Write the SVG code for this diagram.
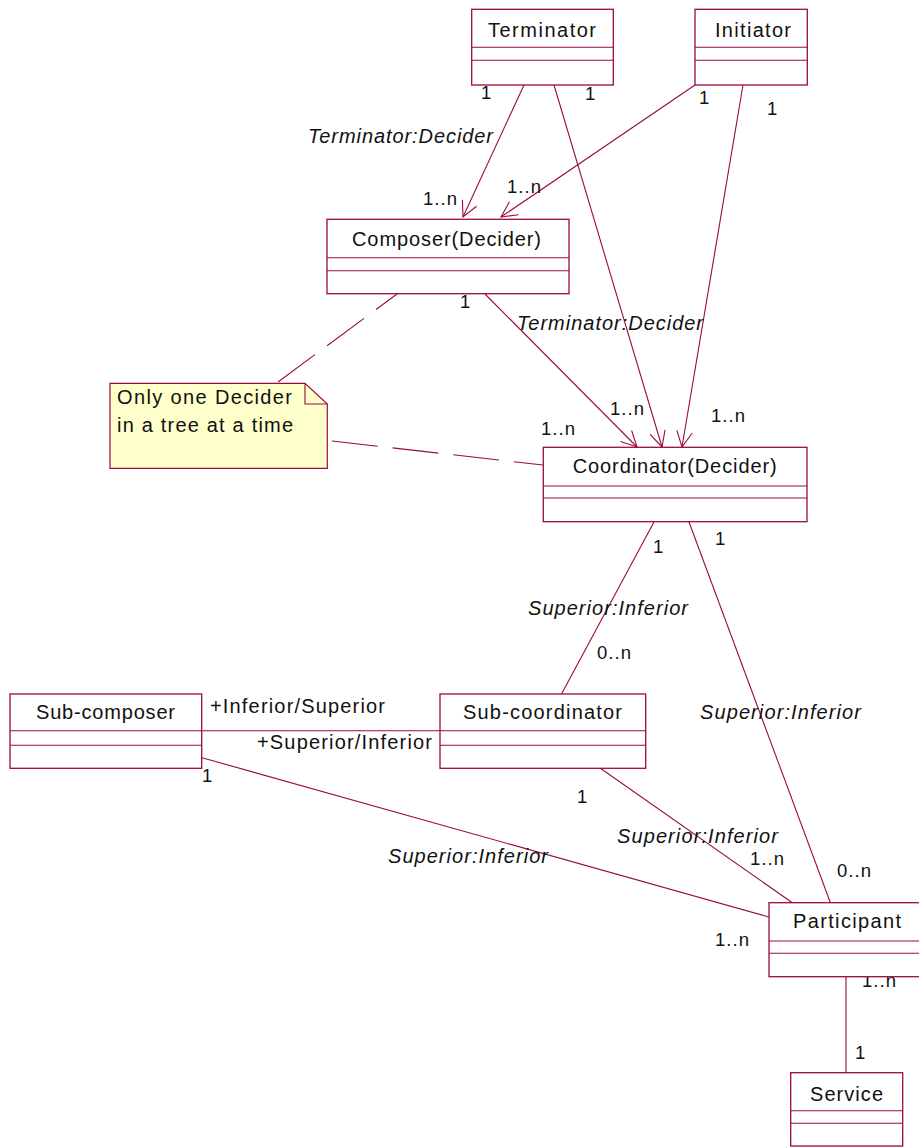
<svg xmlns="http://www.w3.org/2000/svg" width="919" height="1147" viewBox="0 0 919 1147">
  <style>
    .box { fill: #ffffff; stroke: #9b0a3c; stroke-width: 1.3; }
    .sep { stroke: #9b0a3c; stroke-width: 1.1; }
    .note { fill: #ffffcc; stroke: #9b0a3c; stroke-width: 1.2; }
    .link { fill: none; stroke: #9b0a3c; stroke-width: 1.1; }
    .dash { fill: none; stroke: #9b0a3c; stroke-width: 1.1; stroke-dasharray: 46 15; }
    text { font-family: "Liberation Sans", Arial, sans-serif; font-size: 20px; fill: #111111; }
    .mult { font-size: 18.5px; }
    .role { font-style: italic; }
  </style>
  <defs>
    <marker id="open" markerUnits="userSpaceOnUse" markerWidth="20" markerHeight="20" viewBox="-18 -10 20 20" refX="0" refY="0" orient="auto">
      <path d="M-15.5,-7.8 L0,0 L-15.5,7.8" fill="none" stroke="#9b0a3c" stroke-width="1.1"/>
    </marker>
  </defs>

  <!-- associations -->
  <g id="connectors">
    <line class="link" x1="524" y1="85" x2="463" y2="217" marker-end="url(#open)"/>
    <line class="link" x1="695" y1="85" x2="501" y2="217" marker-end="url(#open)"/>
    <line class="link" x1="554" y1="85" x2="662" y2="447" marker-end="url(#open)"/>
    <line class="link" x1="743" y1="85" x2="682" y2="447" marker-end="url(#open)"/>
    <line class="link" x1="485" y1="294" x2="637" y2="447" marker-end="url(#open)"/>
    <line class="dash" x1="278" y1="382" x2="397" y2="294"/>
    <line class="dash" x1="332" y1="441" x2="543" y2="465"/>
    <line class="link" x1="654" y1="522" x2="561.5" y2="694"/>
    <line class="link" x1="689" y1="522" x2="830.5" y2="903"/>
    <line class="link" x1="202" y1="730.7" x2="440" y2="730.7"/>
    <line class="link" x1="202" y1="757.7" x2="769" y2="917"/>
    <line class="link" x1="600" y1="768" x2="792.7" y2="903"/>
    <line class="link" x1="846" y1="977" x2="846" y2="1072.7"/>

    <text class="mult" x="481" y="99">1</text>
    <text class="mult" x="585" y="100">1</text>
    <text class="mult" x="699" y="104">1</text>
    <text class="mult" x="767" y="115">1</text>
    <text class="role" x="308" y="143" textLength="185" lengthAdjust="spacing">Terminator:Decider</text>
    <text class="mult" x="423" y="205" textLength="34" lengthAdjust="spacing">1..n</text>
    <text class="mult" x="507" y="193" textLength="34" lengthAdjust="spacing">1..n</text>
    <text class="mult" x="460" y="308">1</text>
    <text class="role" x="517" y="330" textLength="186" lengthAdjust="spacing">Terminator:Decider</text>
    <text class="mult" x="610" y="415" textLength="34" lengthAdjust="spacing">1..n</text>
    <text class="mult" x="541" y="435" textLength="34" lengthAdjust="spacing">1..n</text>
    <text class="mult" x="711" y="422" textLength="34" lengthAdjust="spacing">1..n</text>
    <text class="mult" x="653" y="553">1</text>
    <text class="mult" x="715" y="545">1</text>
    <text class="role" x="528" y="615" textLength="160" lengthAdjust="spacing">Superior:Inferior</text>
    <text class="mult" x="597" y="659" textLength="34" lengthAdjust="spacing">0..n</text>
    <text class="role" x="700" y="719" textLength="161" lengthAdjust="spacing">Superior:Inferior</text>
    <text x="210" y="713" textLength="175" lengthAdjust="spacing">+Inferior/Superior</text>
    <text x="257" y="749" textLength="175" lengthAdjust="spacing">+Superior/Inferior</text>
    <text class="mult" x="202" y="782">1</text>
    <text class="mult" x="577" y="803">1</text>
    <text class="role" x="617" y="843" textLength="161" lengthAdjust="spacing">Superior:Inferior</text>
    <text class="role" x="388" y="863" textLength="160" lengthAdjust="spacing">Superior:Inferior</text>
    <text class="mult" x="750" y="865" textLength="34" lengthAdjust="spacing">1..n</text>
    <text class="mult" x="837" y="877" textLength="34" lengthAdjust="spacing">0..n</text>
    <text class="mult" x="715" y="946" textLength="34" lengthAdjust="spacing">1..n</text>
    <text class="mult" x="862" y="987" textLength="34" lengthAdjust="spacing">1..n</text>
    <text class="mult" x="855" y="1059">1</text>
  </g>

  <g id="terminator">
    <rect class="box" x="471.7" y="9.3" width="141.6" height="75.7"/>
    <line class="sep" x1="471.7" y1="47.3" x2="613.3" y2="47.3"/>
    <line class="sep" x1="471.7" y1="60.3" x2="613.3" y2="60.3"/>
    <text x="488" y="37" textLength="108" lengthAdjust="spacing">Terminator</text>
  </g>

  <g id="initiator">
    <rect class="box" x="695" y="9.3" width="112.3" height="75.7"/>
    <line class="sep" x1="695" y1="47.3" x2="807.3" y2="47.3"/>
    <line class="sep" x1="695" y1="60.3" x2="807.3" y2="60.3"/>
    <text x="715" y="37" textLength="76" lengthAdjust="spacing">Initiator</text>
  </g>

  <g id="composer">
    <rect class="box" x="327" y="219.3" width="242" height="74.4"/>
    <line class="sep" x1="327" y1="257.7" x2="569" y2="257.7"/>
    <line class="sep" x1="327" y1="270.7" x2="569" y2="270.7"/>
    <text x="352" y="246" textLength="189" lengthAdjust="spacing">Composer(Decider)</text>
  </g>

  <g id="note">
    <polygon class="note" points="110,383.3 305,383.3 327.3,404 327.3,468.3 110,468.3"/>
    <polyline class="link" points="305,383.3 305,404 327.3,404"/>
    <text x="117" y="404" textLength="175" lengthAdjust="spacing">Only one Decider</text>
    <text x="117" y="432" textLength="176" lengthAdjust="spacing">in a tree at a time</text>
  </g>

  <g id="coordinator">
    <rect class="box" x="543.3" y="447.3" width="263.7" height="74.4"/>
    <line class="sep" x1="543.3" y1="486" x2="807" y2="486"/>
    <line class="sep" x1="543.3" y1="498" x2="807" y2="498"/>
    <text x="572.7" y="473" textLength="204" lengthAdjust="spacing">Coordinator(Decider)</text>
  </g>

  <g id="sub-composer">
    <rect class="box" x="10" y="694" width="191.7" height="74.3"/>
    <line class="sep" x1="10" y1="730.7" x2="201.7" y2="730.7"/>
    <line class="sep" x1="10" y1="745.3" x2="201.7" y2="745.3"/>
    <text x="36" y="719" textLength="139" lengthAdjust="spacing">Sub-composer</text>
  </g>

  <g id="sub-coordinator">
    <rect class="box" x="440" y="694" width="205.7" height="74.3"/>
    <line class="sep" x1="440" y1="730.7" x2="645.7" y2="730.7"/>
    <line class="sep" x1="440" y1="745.3" x2="645.7" y2="745.3"/>
    <text x="463" y="719" textLength="159" lengthAdjust="spacing">Sub-coordinator</text>
  </g>

  <g id="participant">
    <rect class="box" x="769" y="902.7" width="160" height="74"/>
    <line class="sep" x1="769" y1="941" x2="929" y2="941"/>
    <line class="sep" x1="769" y1="953.3" x2="929" y2="953.3"/>
    <text x="793" y="928" textLength="108" lengthAdjust="spacing">Participant</text>
  </g>

  <g id="service">
    <rect class="box" x="790.7" y="1072.7" width="112" height="73.3"/>
    <line class="sep" x1="790.7" y1="1110.7" x2="902.7" y2="1110.7"/>
    <line class="sep" x1="790.7" y1="1123.3" x2="902.7" y2="1123.3"/>
    <text x="810" y="1101" textLength="73" lengthAdjust="spacing">Service</text>
  </g>
</svg>
